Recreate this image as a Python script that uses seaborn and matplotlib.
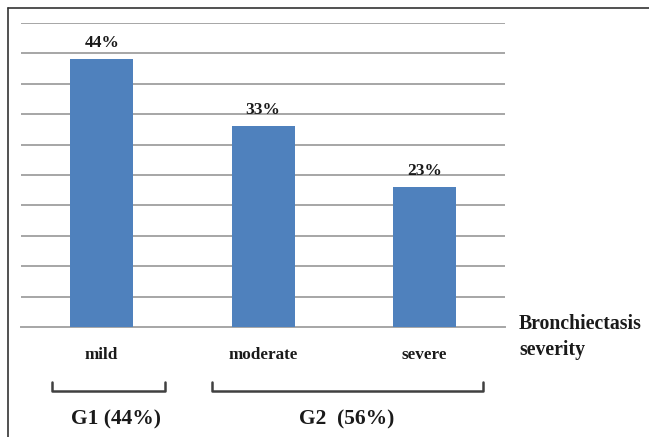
import matplotlib
matplotlib.use('Agg')
import matplotlib.pyplot as plt
import matplotlib.transforms as mtransforms
from matplotlib.lines import Line2D
import seaborn as sns
import pandas as pd

# ─── data ───────────────────────────────────────────────────────────────────
severity = ['mild', 'moderate', 'severe']
percent = [44, 33, 23]
group_labels = ['G1 (44%)', 'G2  (56%)']

df = pd.DataFrame({'severity': severity, 'percent': percent})

sns.set_theme(style='white')
plt.rcParams['font.family'] = ['Liberation Serif', 'DejaVu Serif']

fig = plt.figure(figsize=(6.49, 4.37), dpi=100)
ax = fig.add_axes([0.0324, 0.2517, 0.7458, 0.6957])

sns.barplot(data=df, x='severity', y='percent', color='#4F81BD',
            width=0.39, saturation=1, linewidth=0, edgecolor='none',
            ax=ax, zorder=3)

ax.set_ylim(0, 50)
ax.set_xlim(-0.5, 2.5)
ax.set_yticks(range(5, 51, 5))
ax.yaxis.grid(True, color='#A6A6A6', linewidth=1.4, zorder=0)
ax.set_yticklabels([])
ax.tick_params(axis='y', length=0)

for s in ['top', 'right', 'left']:
    ax.spines[s].set_visible(False)
ax.spines['bottom'].set_color('#A6A6A6')
ax.spines['bottom'].set_linewidth(1.4)

# boundary ticks between categories
ax.set_xticks([-0.5, 0.5, 1.5, 2.5], minor=True)
ax.tick_params(axis='x', which='minor', length=4, color='#A6A6A6', width=1.2)
ax.tick_params(axis='x', which='major', length=0, pad=14.5)
ax.set_xticklabels(severity, fontsize=12.3, fontweight='bold', color='#1a1a1a')
ax.set_xlabel('')
ax.set_ylabel('')

ax.bar_label(ax.containers[0], labels=[f'{v}%' for v in percent],
             padding=6, fontsize=12.5, fontweight='bold', color='#1a1a1a')

# axis title on the right
ax.text(1.029, 0.01, 'Bronchiectasis', transform=ax.transAxes, ha='left',
        va='center', fontsize=14.2, fontweight='bold', color='#1a1a1a')
ax.text(1.029, -0.076, 'severity', transform=ax.transAxes, ha='left',
        va='center', fontsize=14.2, fontweight='bold', color='#1a1a1a')

# group brackets
trans = mtransforms.blended_transform_factory(ax.transData, ax.transAxes)
brackets = [(-0.31, 0.39), (0.685, 2.365)]
text_x = [0.09, 1.52]
for (x0, x1), lab, tx in zip(brackets, group_labels, text_x):
    ax.plot([x0, x0, x1, x1], [-0.181, -0.2105, -0.2105, -0.181],
            transform=trans, clip_on=False, color='#404040', linewidth=1.8)
    ax.text(tx, -0.303, lab, transform=trans, ha='center', va='center',
            fontsize=15.5, fontweight='bold', color='#1a1a1a')

# frame around the figure
fig.add_artist(Line2D([8 / 649, 8 / 649], [0, 1 - 8 / 437], transform=fig.transFigure,
                      color='#333333', linewidth=1.2))
fig.add_artist(Line2D([8 / 649, 1], [1 - 8 / 437, 1 - 8 / 437], transform=fig.transFigure,
                      color='#333333', linewidth=1.2))

fig.savefig('out.png', dpi=100)
